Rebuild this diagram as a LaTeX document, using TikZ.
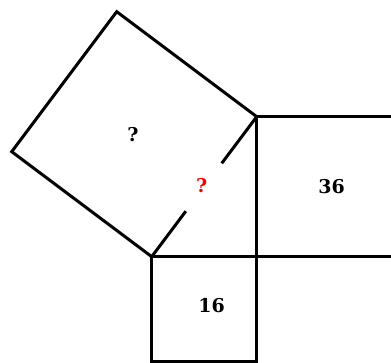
\documentclass[tikz,border=0pt]{standalone}
\usepackage{fontspec}
\newfontfamily\numfont{DejaVu Serif}
\usetikzlibrary{calc}

\begin{document}
\begin{tikzpicture}[x=1pt,y=-1pt,line width=3pt,
  lbl/.style={font=\numfont\bfseries\fontsize{19}{22}\selectfont}]
\useasboundingbox (0,0) rectangle (391,363);
\clip (0,0) rectangle (391,363);
% triangle corners
\coordinate (A) at (256.7,116.7);
\coordinate (B) at (151.7,256.7);
\coordinate (C) at (256.7,256.7);
% square on the hypotenuse
\draw (A) -- (116.7,11.7) -- (11.7,151.7) -- (B);
\draw (B) -- ($(B)!0.325!(A)$);
\draw ($(B)!0.667!(A)$) -- (A);
% squares on the legs
\draw (A) -- (400,116.7);
\draw (A) -- (C) -- (256.7,361.7) -- (151.7,361.7) -- (B) -- (400,256.7);

\node[lbl] (hyp) at (133,134.5) {?};
\node[lbl,red] (side) at (201.7,186) {?};
\node[lbl] (big) at (331.7,186.5) {36};
\node[lbl] (small) at (211.7,306) {16};

\end{tikzpicture}
\end{document}
